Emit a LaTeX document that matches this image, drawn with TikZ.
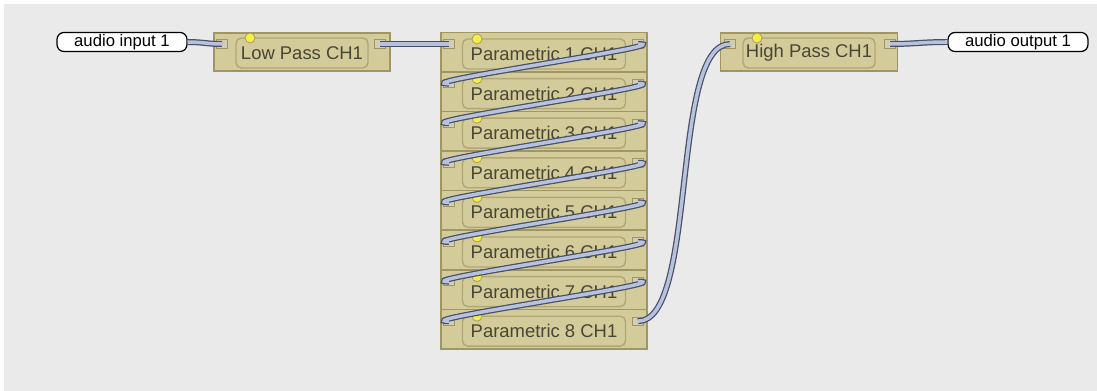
\documentclass[tikz,border=0pt]{standalone}
\usepackage{fontspec}
\setmainfont{Liberation Sans}
\usetikzlibrary{positioning,calc}
\definecolor{canvasGray}{RGB}{234,234,234}
\definecolor{blockTan}{RGB}{212,203,154}
\definecolor{blockEdge}{RGB}{160,150,100}
\definecolor{innerEdge}{RGB}{176,166,118}
\definecolor{labelText}{RGB}{72,70,52}
\definecolor{cableDark}{RGB}{70,78,104}
\definecolor{cableLight}{RGB}{184,194,220}
\definecolor{ledYellow}{RGB}{245,238,70}
\tikzset{
  module/.style={draw=blockEdge, line width=0.8pt, fill=blockTan, minimum height=0.76cm, inner sep=0pt},
  label/.style={draw=innerEdge, line width=0.8pt, rounded corners=3pt, minimum height=0.6cm, inner sep=1pt, font=\fontsize{10.5}{12}\selectfont, text=labelText},
  port/.style={draw=blockEdge, fill=blockTan!85!black!60!white, minimum width=0.22cm, minimum height=0.17cm, inner sep=0pt, line width=0.5pt},
  led/.style={circle, draw=blockEdge, fill=ledYellow, minimum size=0.2cm, inner sep=0pt, line width=0.4pt},
  io/.style={draw=black, fill=white, line width=0.7pt, rounded corners=4pt, minimum height=0.28cm, inner sep=1pt, font=\fontsize{9.5}{10}\selectfont},
  cable/.style={draw=cableDark, double=cableLight, double distance=2pt, line width=0.7pt}
}
\begin{document}
\begin{tikzpicture}[x=0.02cm, y=-0.02cm]
  \useasboundingbox (0,0) rectangle (1097,391);
  \fill[white] (0,0) rectangle (1097,391);
  \fill[canvasGray] (4,4) rectangle (1097,391);

  % inputs and outputs
  \node[io, minimum width=2.6cm] (ain) at (122,42) {audio input 1};
  \node[io, minimum width=2.8cm] (aout) at (1018,42) {audio output 1};

  % low pass
  \node[module, minimum width=3.52cm] (lp) at (302,52) {};
  \node[label, minimum width=2.64cm] (lplab) at (302,53) {Low Pass CH1};
  \node[port] (lpin) at (222,44) {};
  \node[port] (lpout) at (380,44) {};
  \node[led] at (250,38) {};

  % parametric stack
  \foreach \k in {1,...,8} {
    \pgfmathsetmacro{\yc}{52+39.6*(\k-1)}
    \pgfmathsetmacro{\yp}{44+39.6*(\k-1)}
    \node[module, minimum width=4.12cm, minimum height=0.79cm] (peq\k) at (544,\yc) {};
    \node[label, minimum width=3.26cm] (peqlab\k) at (544,\yc+2) {Parametric \k\ CH1};
    \node[port] (peqin\k) at (449,\yp) {};
    \node[port] (peqout\k) at (638,\yp) {};
    \node[led] at (477,\yp-5) {};
  }

  % high pass
  \node[module, minimum width=3.54cm] (hp) at (809,52) {};
  \node[label, minimum width=2.64cm] (hplab) at (809,53) {High Pass CH1};
  \node[port] (hpin) at (730,44) {};
  \node[port] (hpout) at (890,44) {};
  \node[led] at (757,38) {};

  % cables
  \draw[cable] (ain.east) .. controls +(15,0) and +(-15,0) .. (lpin.center);
  \draw[cable] (lpout.center) -- (peqin1.center);
  \foreach \k [evaluate=\k as \n using int(\k+1)] in {1,...,7}
    \draw[cable] (peqout\k.center) .. controls +(45,0) and +(-45,0) .. (peqin\n.center);
  \draw[cable] (peqout8.center) .. controls +(60,0) and +(-60,0) .. (hpin.center);
  \draw[cable] (hpout.center) .. controls +(25,0) and +(-25,0) .. (aout.west);
\end{tikzpicture}
\end{document}
